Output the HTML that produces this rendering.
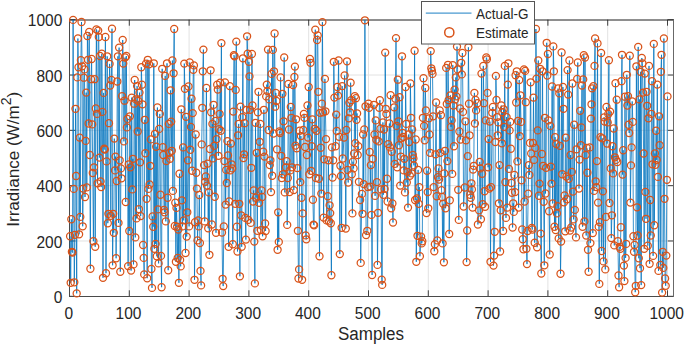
<!DOCTYPE html><html><head><meta charset="utf-8"><title>Irradiance estimate</title>
<style>html,body{margin:0;padding:0;background:#fff}svg{display:block}text{font-family:"Liberation Sans",Arial,Helvetica,sans-serif;fill:#262626}</style></head><body>
<svg width="685" height="344" viewBox="0 0 685 344">
<rect width="685" height="344" fill="#fff"/>
<path d="M129.30 19.7V296.3M189.10 19.7V296.3M248.90 19.7V296.3M308.70 19.7V296.3M368.50 19.7V296.3M428.30 19.7V296.3M488.10 19.7V296.3M547.90 19.7V296.3M607.70 19.7V296.3M667.50 19.7V296.3M69.5 240.98H673.7M69.5 185.66H673.7M69.5 130.34H673.7M69.5 75.02H673.7" stroke="#e2e2e2" stroke-width="1" fill="none"/>
<path d="M69.50 296.3v-6M69.50 19.7v6M129.30 296.3v-6M129.30 19.7v6M189.10 296.3v-6M189.10 19.7v6M248.90 296.3v-6M248.90 19.7v6M308.70 296.3v-6M308.70 19.7v6M368.50 296.3v-6M368.50 19.7v6M428.30 296.3v-6M428.30 19.7v6M488.10 296.3v-6M488.10 19.7v6M547.90 296.3v-6M547.90 19.7v6M607.70 296.3v-6M607.70 19.7v6M667.50 296.3v-6M667.50 19.7v6M69.5 296.30h6M673.7 296.30h-6M69.5 240.98h6M673.7 240.98h-6M69.5 185.66h6M673.7 185.66h-6M69.5 130.34h6M673.7 130.34h-6M69.5 75.02h6M673.7 75.02h-6M69.5 19.70h6M673.7 19.70h-6" stroke="#404040" stroke-width="1" fill="none"/>
<path d="M69 20H674" stroke="#1e1e1e" stroke-width="1" fill="none"/><path d="M69 296.5H674M69.5 20V297" stroke="#4a4a4a" stroke-width="1" fill="none"/><path d="M673.5 20V297" stroke="#686868" stroke-width="1" fill="none"/>
<path d="M70.1 236.2L70.7 282.8L71.3 219.2L71.9 251.8L72.5 252.6L73.1 19.9L73.7 188.9L74.3 282.3L74.9 234.8L75.5 108.8L76.1 176.0L76.7 293.4L77.3 77.4L77.9 38.5L78.5 67.2L79.1 234.3L79.7 137.6L80.3 216.9L80.9 60.2L81.5 22.0L82.1 66.3L82.7 226.3L83.2 188.6L83.8 77.7L84.5 69.4L85.0 197.0L85.7 140.9L86.2 92.6L86.8 187.4L87.4 36.0L88.0 59.8L88.6 123.5L89.2 32.0L89.8 155.0L90.4 268.7L91.0 79.2L91.6 59.0L92.2 124.4L92.8 173.0L93.4 241.2L94.0 167.3L94.6 79.2L95.2 246.8L95.8 108.5L96.4 29.4L97.0 113.9L97.6 183.3L98.2 30.6L98.8 37.0L99.4 157.6L100.0 56.0L100.6 181.5L101.2 187.1L101.8 53.7L102.4 111.9L103.0 277.8L103.6 92.9L104.2 148.7L104.8 149.6L105.4 37.0L106.0 273.2L106.6 161.4L107.2 56.3L107.8 223.2L108.4 213.8L109.0 123.2L109.6 63.9L110.2 85.5L110.8 215.8L111.4 80.0L112.0 28.7L112.6 265.3L113.2 213.8L113.8 232.8L114.3 138.6L115.0 170.4L115.5 156.6L116.1 258.3L116.7 181.0L117.3 81.5L117.9 56.3L118.5 222.9L119.1 47.6L119.7 160.3L120.3 271.7L120.9 168.4L121.5 178.3L122.1 96.1L122.7 40.0L123.3 63.6L123.9 141.4L124.5 100.7L125.1 57.5L125.7 202.0L126.3 56.0L126.9 127.4L127.5 118.9L128.1 266.1L128.7 164.3L129.3 231.0L129.9 116.3L130.5 167.3L131.1 270.6L131.7 97.6L132.3 189.4L132.9 158.8L133.5 264.4L134.1 103.7L134.7 80.0L135.3 237.4L135.9 99.4L136.5 218.4L137.1 86.1L137.7 131.5L138.3 101.0L138.9 209.1L139.5 92.6L140.1 162.3L140.7 216.1L141.3 67.2L141.9 84.7L142.5 104.3L143.1 245.0L143.7 257.9L144.2 274.4L144.8 119.8L145.4 153.2L146.0 63.6L146.6 198.8L147.2 278.2L147.8 59.8L148.4 188.9L149.0 64.3L149.6 184.5L150.2 165.8L150.8 139.4L151.4 269.0L152.0 287.9L152.6 216.4L153.2 226.7L153.8 63.3L154.4 248.8L155.0 133.8L155.6 243.9L156.2 146.7L156.8 256.3L157.4 107.5L158.0 209.4L158.6 263.4L159.2 128.9L159.8 113.9L160.4 194.7L161.0 255.9L161.6 287.2L162.2 68.8L162.8 147.1L163.4 155.0L164.0 209.9L164.6 212.3L165.2 75.9L165.8 221.4L166.4 161.1L167.0 63.3L167.6 197.7L168.2 270.2L168.8 123.9L169.4 152.8L170.0 158.8L170.6 90.3L171.2 121.6L171.8 150.8L172.4 60.5L172.9 190.9L173.6 73.3L174.2 29.0L174.8 226.0L175.3 202.7L175.9 261.8L176.5 207.9L177.1 226.7L177.7 257.9L178.3 229.5L178.9 282.8L179.5 173.7L180.1 259.9L180.7 266.4L181.3 109.3L181.9 200.3L182.5 226.4L183.1 147.4L183.7 220.4L184.3 63.6L184.9 88.8L185.5 253.0L186.1 116.8L186.7 236.6L187.3 212.3L187.9 160.3L188.5 86.5L189.1 226.4L189.7 62.5L190.3 149.7L190.9 126.9L191.5 98.7L192.1 170.7L192.7 113.1L193.3 69.8L193.9 65.4L194.5 279.8L195.1 222.2L195.7 134.5L196.3 172.7L196.9 188.6L197.5 240.4L198.1 220.4L198.7 226.4L199.3 195.0L199.9 243.0L200.5 270.9L201.1 285.4L201.7 144.4L202.3 107.8L202.8 71.3L203.4 49.6L204.1 165.1L204.7 221.4L205.2 181.8L205.8 176.5L206.4 88.0L207.0 185.6L207.6 163.6L208.2 228.3L208.8 192.4L209.4 254.8L210.0 149.0L210.6 70.3L211.2 112.3L211.8 224.5L212.4 123.9L213.0 158.4L213.6 104.8L214.2 145.9L214.8 196.7L215.4 120.9L216.0 232.8L216.6 139.1L217.2 84.7L217.8 89.6L218.4 155.8L219.0 129.2L219.6 113.9L220.2 82.7L220.8 130.7L221.4 43.1L222.0 232.5L222.6 278.8L223.2 286.1L223.8 226.4L224.4 161.1L225.0 82.4L225.6 204.6L226.2 169.9L226.8 183.0L227.4 141.1L228.0 155.5L228.6 246.8L229.2 201.5L229.8 86.1L230.4 170.4L231.0 143.6L231.6 164.3L232.2 168.4L232.8 244.2L233.3 111.6L233.9 55.2L234.6 56.3L235.2 203.8L235.7 89.9L236.3 41.6L236.9 226.7L237.5 251.5L238.1 135.3L238.7 123.9L239.3 203.8L239.9 276.3L240.5 106.6L241.1 215.3L241.7 246.8L242.3 117.1L242.9 58.3L243.5 158.1L244.1 154.3L244.7 123.2L245.3 217.9L245.9 239.6L246.5 109.8L247.1 36.3L247.7 53.7L248.3 219.9L248.9 61.8L249.5 76.4L250.1 109.8L250.7 222.9L251.3 167.8L251.9 54.0L252.5 105.5L253.1 201.5L253.7 190.4L254.3 241.6L254.9 283.4L255.5 122.8L256.1 197.7L256.7 152.8L257.3 230.8L257.9 112.3L258.5 91.8L259.1 202.7L259.7 141.8L260.3 123.9L260.9 230.1L261.5 190.4L262.1 197.0L262.6 236.3L263.2 151.7L263.9 109.8L264.4 156.6L265.1 223.4L265.6 231.0L266.2 96.4L266.8 84.6L267.4 91.1L268.0 49.6L268.6 130.0L269.2 99.4L269.8 165.1L270.4 160.3L271.0 192.1L271.6 73.9L272.2 175.7L272.8 49.9L273.4 133.5L274.0 71.3L274.6 33.5L275.2 106.7L275.8 92.9L276.4 101.0L277.0 149.3L277.6 249.8L278.2 212.3L278.8 241.9L279.4 131.5L280.0 133.0L280.6 77.4L281.2 155.8L281.8 178.0L282.4 93.8L283.0 174.2L283.6 121.3L284.2 57.5L284.8 192.4L286.0 167.3L286.6 161.1L287.2 224.9L287.8 178.0L288.4 84.0L289.0 129.5L289.6 192.1L290.2 170.4L290.8 107.0L291.4 117.8L292.0 167.3L293.1 85.0L293.8 190.1L294.4 77.0L294.9 66.6L295.5 145.6L296.1 119.3L296.7 148.2L297.3 168.1L297.9 230.8L298.5 278.5L299.1 269.4L299.7 130.7L300.3 182.1L300.9 136.1L301.5 197.7L302.1 279.8L302.7 213.4L303.3 130.0L303.9 113.9L304.5 117.8L305.1 147.0L305.7 235.4L306.3 239.3L306.9 155.0L307.5 105.5L308.1 137.6L308.7 87.0L309.3 174.2L309.9 59.0L310.5 62.8L311.1 170.8L311.7 146.2L312.3 119.3L312.9 199.7L313.5 224.6L314.1 225.2L314.7 128.9L315.3 29.7L315.9 178.0L316.5 130.7L317.1 40.0L317.7 35.5L318.3 91.8L318.9 178.7L319.5 256.3L320.1 112.8L320.7 147.7L321.3 193.6L321.9 103.7L322.4 22.1L323.1 112.3L323.6 217.6L324.2 159.3L324.9 78.9L325.4 111.3L326.0 139.1L326.6 220.4L327.8 196.2L328.4 160.3L329.0 221.4L329.6 205.3L330.2 213.1L330.8 223.2L331.4 275.2L332.0 147.4L332.6 177.5L333.2 160.3L333.8 61.8L334.4 97.6L335.6 146.2L336.2 114.6L336.8 131.0L337.4 87.0L338.0 95.6L338.6 60.5L339.2 136.8L339.8 254.1L340.4 165.8L341.0 176.0L341.6 227.8L342.2 86.1L342.8 158.5L344.0 137.6L344.6 75.5L345.8 228.6L346.4 130.0L347.0 61.3L347.6 169.9L348.2 182.5L348.8 118.3L349.4 102.8L350.0 112.3L350.6 82.7L351.2 100.2L351.8 174.2L352.4 213.4L352.9 161.7L353.6 168.4L354.1 153.5L354.8 96.1L355.3 143.2L355.9 98.2L356.5 119.8L357.1 113.4L357.7 155.0L358.3 146.2L358.9 181.8L360.1 200.0L360.7 262.9L361.9 193.9L362.5 213.8L363.1 134.5L363.7 184.1L364.3 129.5L364.9 20.3L365.5 106.3L366.1 235.1L367.3 230.8L367.9 187.1L368.5 103.7L369.1 107.8L369.7 152.0L370.3 186.6L370.9 165.1L371.5 214.9L372.1 275.0L372.7 158.8L373.9 104.8L374.5 134.5L375.1 195.9L375.7 120.4L376.3 139.8L376.9 182.1L377.5 264.9L378.1 212.8L378.7 141.4L379.3 107.8L379.9 100.2L380.5 128.5L381.1 189.4L381.7 279.6L382.2 284.9L382.9 122.4L383.4 194.7L384.1 129.5L384.6 188.9L385.2 52.6L385.8 108.8L386.4 114.0L387.0 178.7L387.6 201.5L388.2 144.1L389.4 123.5L390.0 147.4L390.6 95.2L391.2 208.3L391.8 151.7L392.4 203.5L393.0 222.5L394.2 107.3L394.8 163.9L395.4 98.7L396.0 38.1L396.6 125.9L397.2 167.3L397.8 79.7L398.4 121.3L399.0 145.2L399.6 97.2L400.2 185.6L400.8 156.6L401.4 138.3L402.0 56.3L402.6 133.0L403.2 136.8L403.8 170.4L404.4 158.8L405.0 192.4L405.6 87.0L406.2 123.9L406.8 182.5L407.4 171.9L408.0 207.6L408.6 134.5L409.2 142.1L409.8 175.7L410.4 83.5L411.0 117.8L411.6 173.4L412.1 129.5L412.8 155.0L413.4 158.4L413.9 165.4L414.6 50.7L415.1 200.0L415.7 139.5L416.3 261.8L416.9 198.5L417.5 235.8L418.1 169.9L418.7 203.8L419.3 187.1L419.9 256.3L421.1 236.6L421.7 243.4L422.3 241.2L422.9 117.8L423.5 78.2L424.1 125.9L424.7 140.2L425.3 88.0L425.9 110.4L426.5 213.1L427.1 170.7L427.7 192.1L428.3 208.3L428.9 118.3L429.5 134.5L430.1 152.8L430.7 51.1L431.3 68.3L431.9 70.9L432.5 73.9L433.1 116.3L433.7 187.1L434.3 251.3L434.9 244.2L435.5 154.3L436.1 102.5L436.7 196.2L437.3 240.4L437.9 177.2L438.5 168.4L439.1 179.5L439.7 110.4L440.3 152.8L440.9 115.2L441.5 190.1L442.1 197.0L442.6 243.4L443.2 203.8L443.9 262.3L444.4 173.4L445.0 150.8L445.6 208.3L446.2 67.9L446.8 104.0L447.4 161.1L448.0 64.8L448.6 100.2L449.2 234.0L449.8 200.3L450.4 95.3L451.0 126.9L451.6 120.4L452.2 173.9L452.8 65.1L453.4 105.5L454.0 146.2L454.6 89.6L455.2 99.4L455.8 77.4L456.4 96.4L457.0 46.6L457.6 69.4L458.2 189.8L458.8 219.9L459.4 131.5L460.0 108.5L460.6 139.5L461.2 62.8L461.8 74.4L462.4 53.0L463.0 111.9L463.6 206.5L464.8 187.5L465.4 121.3L466.0 140.3L466.6 262.1L467.2 230.5L467.8 156.1L468.4 47.3L469.0 103.7L469.6 135.3L470.2 194.7L470.8 197.7L471.4 183.3L471.9 189.4L472.6 207.6L473.1 169.6L473.8 165.8L474.4 92.9L474.9 123.5L475.5 99.9L476.1 110.4L477.3 103.2L477.9 224.5L479.1 210.3L479.7 161.9L480.3 168.4L480.9 219.2L481.5 73.6L482.1 173.7L482.7 204.2L483.3 65.9L483.9 103.2L484.5 191.2L485.1 206.8L485.7 120.4L486.3 57.5L486.9 59.3L487.5 92.9L488.1 167.3L488.7 139.1L489.3 188.6L489.9 121.6L490.5 261.8L491.1 187.1L492.3 112.8L492.9 107.0L493.5 265.6L494.1 255.6L494.7 231.8L495.3 142.1L495.9 75.9L496.5 99.9L497.1 117.1L497.7 135.3L498.3 122.4L498.9 203.3L499.5 165.1L500.1 251.5L500.7 210.3L501.3 105.5L501.9 143.3L502.4 112.2L503.1 231.0L503.6 109.3L504.2 126.9L504.8 65.9L505.4 182.1L506.0 217.9L506.6 117.1L507.2 207.6L507.8 84.6L508.4 63.3L509.0 168.9L509.6 130.4L510.2 121.9L510.8 148.7L511.4 183.0L512.0 192.7L512.6 227.5L513.2 203.3L513.8 211.9L514.4 174.9L515.0 192.1L515.6 75.2L516.2 102.5L516.8 71.3L517.4 161.4L518.0 120.9L518.6 207.6L519.2 80.0L519.8 136.1L520.4 95.3L521.0 121.9L521.6 180.3L522.2 229.5L522.8 239.2L523.4 249.2L524.0 69.5L524.6 201.5L525.2 70.9L525.8 102.2L526.4 248.8L527.0 264.1L527.6 231.0L528.2 193.6L528.8 165.1L529.4 174.9L530.0 142.9L530.6 82.3L531.2 153.5L531.8 227.9L532.4 229.5L533.0 142.9L533.5 97.6L534.1 159.9L534.7 242.7L535.3 147.9L535.9 29.0L536.5 78.6L537.1 247.2L537.7 130.4L538.3 60.5L538.9 195.7L539.5 183.6L540.1 68.8L540.7 233.6L541.3 273.5L541.9 154.0L542.5 71.3L543.1 165.8L543.7 201.8L544.3 265.3L544.9 117.8L545.5 193.5L546.1 167.8L546.7 42.8L547.3 75.5L547.9 54.0L548.5 120.4L549.1 211.2L549.7 254.5L550.3 125.9L550.9 166.6L551.5 183.6L552.1 86.5L552.7 203.5L553.3 46.4L553.9 71.3L554.5 226.7L555.1 137.1L555.7 230.1L556.3 144.1L556.9 213.4L557.5 206.1L558.1 88.5L558.7 238.4L559.3 93.4L559.9 145.9L560.5 273.7L561.1 241.6L561.6 52.5L562.2 174.2L562.9 87.0L563.5 108.8L564.0 202.3L564.6 195.4L565.2 231.3L565.8 137.6L566.4 176.5L567.0 199.2L567.6 70.1L568.2 94.6L568.8 178.7L569.4 60.5L570.0 230.5L570.6 155.0L571.2 227.5L571.8 171.9L572.4 83.5L573.0 191.6L573.6 219.4L574.2 124.7L574.8 209.9L576.0 237.4L576.6 149.3L577.2 78.9L577.8 62.5L579.0 188.6L579.6 159.6L580.2 110.8L580.8 145.2L581.4 127.4L582.0 85.5L582.6 226.7L583.2 79.4L583.8 55.2L584.4 221.4L585.0 57.5L585.6 155.0L586.2 235.5L586.8 147.9L587.4 172.7L588.0 249.8L588.6 271.7L589.8 147.4L590.4 243.1L591.0 118.6L591.5 104.3L592.1 88.3L592.8 233.1L593.4 86.1L594.0 190.9L594.5 65.9L595.1 38.5L595.7 181.3L596.3 187.1L596.9 161.1L597.5 43.4L598.1 202.6L598.7 226.7L599.3 283.9L599.9 222.2L600.5 137.1L601.1 53.0L601.7 251.0L602.3 138.3L602.9 191.3L603.5 261.4L604.1 117.4L604.7 121.6L605.3 269.4L605.9 216.9L606.5 107.0L607.1 143.6L607.7 122.4L608.3 114.0L608.9 60.2L609.5 203.0L610.1 111.6L610.7 168.4L611.3 238.1L611.9 215.3L612.5 146.2L613.1 173.4L613.7 128.5L614.3 245.4L614.9 157.3L615.5 83.2L616.1 159.9L616.7 99.7L617.3 162.0L617.9 241.2L618.5 275.5L619.1 287.2L619.7 246.8L620.3 248.8L620.9 227.2L621.5 81.2L622.0 54.8L622.6 174.6L623.2 150.2L623.9 265.6L624.4 281.1L625.0 96.7L625.6 257.9L626.2 243.9L626.8 74.8L627.4 105.5L628.0 96.1L628.6 124.7L629.2 133.0L629.8 55.7L630.4 202.6L631.0 165.4L631.6 147.4L632.2 101.4L632.8 121.9L633.4 236.2L634.0 251.8L634.6 245.0L635.2 292.2L635.8 285.8L636.4 66.3L637.0 207.3L637.6 235.5L638.2 46.9L638.8 258.3L639.4 99.4L640.0 268.2L640.6 71.8L641.2 285.1L641.8 58.0L642.4 63.3L643.0 92.6L643.6 153.5L644.2 248.8L644.8 73.6L645.4 191.9L646.0 218.8L646.6 91.8L647.2 105.8L647.8 245.7L648.4 118.3L649.0 65.9L649.6 263.8L650.2 200.0L650.8 235.5L651.4 113.9L652.0 81.2L652.5 164.3L653.1 255.9L653.8 43.9L654.3 225.2L654.9 153.5L655.5 164.8L656.1 130.7L656.7 159.9L657.3 84.6L657.9 176.9L658.5 270.9L659.1 116.3L659.7 145.2L660.3 264.9L660.9 71.8L661.5 54.8L662.1 292.6L662.7 251.8L663.3 267.9L663.9 38.5L664.5 198.8L665.1 278.5L665.7 285.8L666.3 255.6L666.9 179.8L667.5 96.4" stroke="#0072BD" stroke-width="0.78" fill="none" stroke-linejoin="round"/>
<g fill="none" stroke="#D95319" stroke-width="1.25">
<circle cx="70.1" cy="236.2" r="3.55"/>
<circle cx="70.7" cy="282.8" r="3.55"/>
<circle cx="71.3" cy="219.2" r="3.55"/>
<circle cx="71.9" cy="251.8" r="3.55"/>
<circle cx="72.5" cy="252.6" r="3.55"/>
<circle cx="73.1" cy="19.9" r="3.55"/>
<circle cx="73.7" cy="188.9" r="3.55"/>
<circle cx="74.3" cy="282.3" r="3.55"/>
<circle cx="74.9" cy="234.8" r="3.55"/>
<circle cx="75.5" cy="108.8" r="3.55"/>
<circle cx="76.1" cy="176.0" r="3.55"/>
<circle cx="76.7" cy="293.4" r="3.55"/>
<circle cx="77.3" cy="77.4" r="3.55"/>
<circle cx="77.9" cy="38.5" r="3.55"/>
<circle cx="78.5" cy="67.2" r="3.55"/>
<circle cx="79.1" cy="234.3" r="3.55"/>
<circle cx="79.7" cy="137.6" r="3.55"/>
<circle cx="80.3" cy="216.9" r="3.55"/>
<circle cx="80.9" cy="60.2" r="3.55"/>
<circle cx="81.5" cy="22.0" r="3.55"/>
<circle cx="82.1" cy="66.3" r="3.55"/>
<circle cx="82.7" cy="226.3" r="3.55"/>
<circle cx="83.2" cy="188.6" r="3.55"/>
<circle cx="83.8" cy="77.7" r="3.55"/>
<circle cx="84.5" cy="69.4" r="3.55"/>
<circle cx="85.0" cy="197.0" r="3.55"/>
<circle cx="85.7" cy="140.9" r="3.55"/>
<circle cx="86.2" cy="92.6" r="3.55"/>
<circle cx="86.8" cy="187.4" r="3.55"/>
<circle cx="87.4" cy="36.0" r="3.55"/>
<circle cx="88.0" cy="59.8" r="3.55"/>
<circle cx="88.6" cy="123.5" r="3.55"/>
<circle cx="89.2" cy="32.0" r="3.55"/>
<circle cx="89.8" cy="155.0" r="3.55"/>
<circle cx="90.4" cy="268.7" r="3.55"/>
<circle cx="91.0" cy="79.2" r="3.55"/>
<circle cx="91.6" cy="59.0" r="3.55"/>
<circle cx="92.2" cy="124.4" r="3.55"/>
<circle cx="92.8" cy="173.0" r="3.55"/>
<circle cx="93.4" cy="241.2" r="3.55"/>
<circle cx="94.0" cy="167.3" r="3.55"/>
<circle cx="94.6" cy="79.2" r="3.55"/>
<circle cx="95.2" cy="246.8" r="3.55"/>
<circle cx="95.8" cy="108.5" r="3.55"/>
<circle cx="96.4" cy="29.4" r="3.55"/>
<circle cx="97.0" cy="113.9" r="3.55"/>
<circle cx="97.6" cy="183.3" r="3.55"/>
<circle cx="98.2" cy="30.6" r="3.55"/>
<circle cx="98.8" cy="37.0" r="3.55"/>
<circle cx="99.4" cy="157.6" r="3.55"/>
<circle cx="100.0" cy="56.0" r="3.55"/>
<circle cx="100.6" cy="181.5" r="3.55"/>
<circle cx="101.2" cy="187.1" r="3.55"/>
<circle cx="101.8" cy="53.7" r="3.55"/>
<circle cx="102.4" cy="111.9" r="3.55"/>
<circle cx="103.0" cy="277.8" r="3.55"/>
<circle cx="103.6" cy="92.9" r="3.55"/>
<circle cx="104.2" cy="148.7" r="3.55"/>
<circle cx="104.8" cy="149.6" r="3.55"/>
<circle cx="105.4" cy="37.0" r="3.55"/>
<circle cx="106.0" cy="273.2" r="3.55"/>
<circle cx="106.6" cy="161.4" r="3.55"/>
<circle cx="107.2" cy="56.3" r="3.55"/>
<circle cx="107.8" cy="223.2" r="3.55"/>
<circle cx="108.4" cy="213.8" r="3.55"/>
<circle cx="109.0" cy="123.2" r="3.55"/>
<circle cx="109.6" cy="63.9" r="3.55"/>
<circle cx="110.2" cy="85.5" r="3.55"/>
<circle cx="110.8" cy="215.8" r="3.55"/>
<circle cx="111.4" cy="80.0" r="3.55"/>
<circle cx="112.0" cy="28.7" r="3.55"/>
<circle cx="112.6" cy="265.3" r="3.55"/>
<circle cx="113.2" cy="213.8" r="3.55"/>
<circle cx="113.8" cy="232.8" r="3.55"/>
<circle cx="114.3" cy="138.6" r="3.55"/>
<circle cx="115.0" cy="170.4" r="3.55"/>
<circle cx="115.5" cy="156.6" r="3.55"/>
<circle cx="116.1" cy="258.3" r="3.55"/>
<circle cx="116.7" cy="181.0" r="3.55"/>
<circle cx="117.3" cy="81.5" r="3.55"/>
<circle cx="117.9" cy="56.3" r="3.55"/>
<circle cx="118.5" cy="222.9" r="3.55"/>
<circle cx="119.1" cy="47.6" r="3.55"/>
<circle cx="119.7" cy="160.3" r="3.55"/>
<circle cx="120.3" cy="271.7" r="3.55"/>
<circle cx="120.9" cy="168.4" r="3.55"/>
<circle cx="121.5" cy="178.3" r="3.55"/>
<circle cx="122.1" cy="96.1" r="3.55"/>
<circle cx="122.7" cy="40.0" r="3.55"/>
<circle cx="123.3" cy="63.6" r="3.55"/>
<circle cx="123.9" cy="141.4" r="3.55"/>
<circle cx="124.5" cy="100.7" r="3.55"/>
<circle cx="125.1" cy="57.5" r="3.55"/>
<circle cx="125.7" cy="202.0" r="3.55"/>
<circle cx="126.3" cy="56.0" r="3.55"/>
<circle cx="126.9" cy="127.4" r="3.55"/>
<circle cx="127.5" cy="118.9" r="3.55"/>
<circle cx="128.1" cy="266.1" r="3.55"/>
<circle cx="128.7" cy="164.3" r="3.55"/>
<circle cx="129.3" cy="231.0" r="3.55"/>
<circle cx="129.9" cy="116.3" r="3.55"/>
<circle cx="130.5" cy="167.3" r="3.55"/>
<circle cx="131.1" cy="270.6" r="3.55"/>
<circle cx="131.7" cy="97.6" r="3.55"/>
<circle cx="132.3" cy="189.4" r="3.55"/>
<circle cx="132.9" cy="158.8" r="3.55"/>
<circle cx="133.5" cy="264.4" r="3.55"/>
<circle cx="134.1" cy="103.7" r="3.55"/>
<circle cx="134.7" cy="80.0" r="3.55"/>
<circle cx="135.3" cy="237.4" r="3.55"/>
<circle cx="135.9" cy="99.4" r="3.55"/>
<circle cx="136.5" cy="218.4" r="3.55"/>
<circle cx="137.1" cy="86.1" r="3.55"/>
<circle cx="137.7" cy="131.5" r="3.55"/>
<circle cx="138.3" cy="101.0" r="3.55"/>
<circle cx="138.9" cy="209.1" r="3.55"/>
<circle cx="139.5" cy="92.6" r="3.55"/>
<circle cx="140.1" cy="162.3" r="3.55"/>
<circle cx="140.7" cy="216.1" r="3.55"/>
<circle cx="141.3" cy="67.2" r="3.55"/>
<circle cx="141.9" cy="84.7" r="3.55"/>
<circle cx="142.5" cy="104.3" r="3.55"/>
<circle cx="143.1" cy="245.0" r="3.55"/>
<circle cx="143.7" cy="257.9" r="3.55"/>
<circle cx="144.2" cy="274.4" r="3.55"/>
<circle cx="144.8" cy="119.8" r="3.55"/>
<circle cx="145.4" cy="153.2" r="3.55"/>
<circle cx="146.0" cy="63.6" r="3.55"/>
<circle cx="146.6" cy="198.8" r="3.55"/>
<circle cx="147.2" cy="278.2" r="3.55"/>
<circle cx="147.8" cy="59.8" r="3.55"/>
<circle cx="148.4" cy="188.9" r="3.55"/>
<circle cx="149.0" cy="64.3" r="3.55"/>
<circle cx="149.6" cy="184.5" r="3.55"/>
<circle cx="150.2" cy="165.8" r="3.55"/>
<circle cx="150.8" cy="139.4" r="3.55"/>
<circle cx="151.4" cy="269.0" r="3.55"/>
<circle cx="152.0" cy="287.9" r="3.55"/>
<circle cx="152.6" cy="216.4" r="3.55"/>
<circle cx="153.2" cy="226.7" r="3.55"/>
<circle cx="153.8" cy="63.3" r="3.55"/>
<circle cx="154.4" cy="248.8" r="3.55"/>
<circle cx="155.0" cy="133.8" r="3.55"/>
<circle cx="155.6" cy="243.9" r="3.55"/>
<circle cx="156.2" cy="146.7" r="3.55"/>
<circle cx="156.8" cy="256.3" r="3.55"/>
<circle cx="157.4" cy="107.5" r="3.55"/>
<circle cx="158.0" cy="209.4" r="3.55"/>
<circle cx="158.6" cy="263.4" r="3.55"/>
<circle cx="159.2" cy="128.9" r="3.55"/>
<circle cx="159.8" cy="113.9" r="3.55"/>
<circle cx="160.4" cy="194.7" r="3.55"/>
<circle cx="161.0" cy="255.9" r="3.55"/>
<circle cx="161.6" cy="287.2" r="3.55"/>
<circle cx="162.2" cy="68.8" r="3.55"/>
<circle cx="162.8" cy="147.1" r="3.55"/>
<circle cx="163.4" cy="155.0" r="3.55"/>
<circle cx="164.0" cy="209.9" r="3.55"/>
<circle cx="164.6" cy="212.3" r="3.55"/>
<circle cx="165.2" cy="75.9" r="3.55"/>
<circle cx="165.8" cy="221.4" r="3.55"/>
<circle cx="166.4" cy="161.1" r="3.55"/>
<circle cx="167.0" cy="63.3" r="3.55"/>
<circle cx="167.6" cy="197.7" r="3.55"/>
<circle cx="168.2" cy="270.2" r="3.55"/>
<circle cx="168.8" cy="123.9" r="3.55"/>
<circle cx="169.4" cy="152.8" r="3.55"/>
<circle cx="170.0" cy="158.8" r="3.55"/>
<circle cx="170.6" cy="90.3" r="3.55"/>
<circle cx="171.2" cy="121.6" r="3.55"/>
<circle cx="171.8" cy="150.8" r="3.55"/>
<circle cx="172.4" cy="60.5" r="3.55"/>
<circle cx="172.9" cy="190.9" r="3.55"/>
<circle cx="173.6" cy="73.3" r="3.55"/>
<circle cx="174.2" cy="29.0" r="3.55"/>
<circle cx="174.8" cy="226.0" r="3.55"/>
<circle cx="175.3" cy="202.7" r="3.55"/>
<circle cx="175.9" cy="261.8" r="3.55"/>
<circle cx="176.5" cy="207.9" r="3.55"/>
<circle cx="177.1" cy="226.7" r="3.55"/>
<circle cx="177.7" cy="257.9" r="3.55"/>
<circle cx="178.3" cy="229.5" r="3.55"/>
<circle cx="178.9" cy="282.8" r="3.55"/>
<circle cx="179.5" cy="173.7" r="3.55"/>
<circle cx="180.1" cy="259.9" r="3.55"/>
<circle cx="180.7" cy="266.4" r="3.55"/>
<circle cx="181.3" cy="109.3" r="3.55"/>
<circle cx="181.9" cy="200.3" r="3.55"/>
<circle cx="182.5" cy="226.4" r="3.55"/>
<circle cx="183.1" cy="147.4" r="3.55"/>
<circle cx="183.7" cy="220.4" r="3.55"/>
<circle cx="184.3" cy="63.6" r="3.55"/>
<circle cx="184.9" cy="88.8" r="3.55"/>
<circle cx="185.5" cy="253.0" r="3.55"/>
<circle cx="186.1" cy="116.8" r="3.55"/>
<circle cx="186.7" cy="236.6" r="3.55"/>
<circle cx="187.3" cy="212.3" r="3.55"/>
<circle cx="187.9" cy="160.3" r="3.55"/>
<circle cx="188.5" cy="86.5" r="3.55"/>
<circle cx="189.1" cy="226.4" r="3.55"/>
<circle cx="189.7" cy="62.5" r="3.55"/>
<circle cx="190.3" cy="149.7" r="3.55"/>
<circle cx="190.9" cy="126.9" r="3.55"/>
<circle cx="191.5" cy="98.7" r="3.55"/>
<circle cx="192.1" cy="170.7" r="3.55"/>
<circle cx="192.7" cy="113.1" r="3.55"/>
<circle cx="193.3" cy="69.8" r="3.55"/>
<circle cx="193.9" cy="65.4" r="3.55"/>
<circle cx="194.5" cy="279.8" r="3.55"/>
<circle cx="195.1" cy="222.2" r="3.55"/>
<circle cx="195.7" cy="134.5" r="3.55"/>
<circle cx="196.3" cy="172.7" r="3.55"/>
<circle cx="196.9" cy="188.6" r="3.55"/>
<circle cx="197.5" cy="240.4" r="3.55"/>
<circle cx="198.1" cy="220.4" r="3.55"/>
<circle cx="198.7" cy="226.4" r="3.55"/>
<circle cx="199.3" cy="195.0" r="3.55"/>
<circle cx="199.9" cy="243.0" r="3.55"/>
<circle cx="200.5" cy="270.9" r="3.55"/>
<circle cx="201.1" cy="285.4" r="3.55"/>
<circle cx="201.7" cy="144.4" r="3.55"/>
<circle cx="202.3" cy="107.8" r="3.55"/>
<circle cx="202.8" cy="71.3" r="3.55"/>
<circle cx="203.4" cy="49.6" r="3.55"/>
<circle cx="204.1" cy="165.1" r="3.55"/>
<circle cx="204.7" cy="221.4" r="3.55"/>
<circle cx="205.2" cy="181.8" r="3.55"/>
<circle cx="205.8" cy="176.5" r="3.55"/>
<circle cx="206.4" cy="88.0" r="3.55"/>
<circle cx="207.0" cy="185.6" r="3.55"/>
<circle cx="207.6" cy="163.6" r="3.55"/>
<circle cx="208.2" cy="228.3" r="3.55"/>
<circle cx="208.8" cy="192.4" r="3.55"/>
<circle cx="209.4" cy="254.8" r="3.55"/>
<circle cx="210.0" cy="149.0" r="3.55"/>
<circle cx="210.6" cy="70.3" r="3.55"/>
<circle cx="211.2" cy="112.3" r="3.55"/>
<circle cx="211.8" cy="224.5" r="3.55"/>
<circle cx="212.4" cy="123.9" r="3.55"/>
<circle cx="213.0" cy="158.4" r="3.55"/>
<circle cx="213.6" cy="104.8" r="3.55"/>
<circle cx="214.2" cy="145.9" r="3.55"/>
<circle cx="214.8" cy="196.7" r="3.55"/>
<circle cx="215.4" cy="120.9" r="3.55"/>
<circle cx="216.0" cy="232.8" r="3.55"/>
<circle cx="216.6" cy="139.1" r="3.55"/>
<circle cx="217.2" cy="84.7" r="3.55"/>
<circle cx="217.8" cy="89.6" r="3.55"/>
<circle cx="218.4" cy="155.8" r="3.55"/>
<circle cx="219.0" cy="129.2" r="3.55"/>
<circle cx="219.6" cy="113.9" r="3.55"/>
<circle cx="220.2" cy="82.7" r="3.55"/>
<circle cx="220.8" cy="130.7" r="3.55"/>
<circle cx="221.4" cy="43.1" r="3.55"/>
<circle cx="222.0" cy="232.5" r="3.55"/>
<circle cx="222.6" cy="278.8" r="3.55"/>
<circle cx="223.2" cy="286.1" r="3.55"/>
<circle cx="223.8" cy="226.4" r="3.55"/>
<circle cx="224.4" cy="161.1" r="3.55"/>
<circle cx="225.0" cy="82.4" r="3.55"/>
<circle cx="225.6" cy="204.6" r="3.55"/>
<circle cx="226.2" cy="169.9" r="3.55"/>
<circle cx="226.8" cy="183.0" r="3.55"/>
<circle cx="227.4" cy="141.1" r="3.55"/>
<circle cx="228.0" cy="155.5" r="3.55"/>
<circle cx="228.6" cy="246.8" r="3.55"/>
<circle cx="229.2" cy="201.5" r="3.55"/>
<circle cx="229.8" cy="86.1" r="3.55"/>
<circle cx="230.4" cy="170.4" r="3.55"/>
<circle cx="231.0" cy="143.6" r="3.55"/>
<circle cx="231.6" cy="164.3" r="3.55"/>
<circle cx="232.2" cy="168.4" r="3.55"/>
<circle cx="232.8" cy="244.2" r="3.55"/>
<circle cx="233.3" cy="111.6" r="3.55"/>
<circle cx="233.9" cy="55.2" r="3.55"/>
<circle cx="234.6" cy="56.3" r="3.55"/>
<circle cx="235.2" cy="203.8" r="3.55"/>
<circle cx="235.7" cy="89.9" r="3.55"/>
<circle cx="236.3" cy="41.6" r="3.55"/>
<circle cx="236.9" cy="226.7" r="3.55"/>
<circle cx="237.5" cy="251.5" r="3.55"/>
<circle cx="238.1" cy="135.3" r="3.55"/>
<circle cx="238.7" cy="123.9" r="3.55"/>
<circle cx="239.3" cy="203.8" r="3.55"/>
<circle cx="239.9" cy="276.3" r="3.55"/>
<circle cx="240.5" cy="106.6" r="3.55"/>
<circle cx="241.1" cy="215.3" r="3.55"/>
<circle cx="241.7" cy="246.8" r="3.55"/>
<circle cx="242.3" cy="117.1" r="3.55"/>
<circle cx="242.9" cy="58.3" r="3.55"/>
<circle cx="243.5" cy="158.1" r="3.55"/>
<circle cx="244.1" cy="154.3" r="3.55"/>
<circle cx="244.7" cy="123.2" r="3.55"/>
<circle cx="245.3" cy="217.9" r="3.55"/>
<circle cx="245.9" cy="239.6" r="3.55"/>
<circle cx="246.5" cy="109.8" r="3.55"/>
<circle cx="247.1" cy="36.3" r="3.55"/>
<circle cx="247.7" cy="53.7" r="3.55"/>
<circle cx="248.3" cy="219.9" r="3.55"/>
<circle cx="248.9" cy="61.8" r="3.55"/>
<circle cx="249.5" cy="76.4" r="3.55"/>
<circle cx="250.1" cy="109.8" r="3.55"/>
<circle cx="250.7" cy="222.9" r="3.55"/>
<circle cx="251.3" cy="167.8" r="3.55"/>
<circle cx="251.9" cy="54.0" r="3.55"/>
<circle cx="252.5" cy="105.5" r="3.55"/>
<circle cx="253.1" cy="201.5" r="3.55"/>
<circle cx="253.7" cy="190.4" r="3.55"/>
<circle cx="254.3" cy="241.6" r="3.55"/>
<circle cx="254.9" cy="283.4" r="3.55"/>
<circle cx="255.5" cy="122.8" r="3.55"/>
<circle cx="256.1" cy="197.7" r="3.55"/>
<circle cx="256.7" cy="152.8" r="3.55"/>
<circle cx="257.3" cy="230.8" r="3.55"/>
<circle cx="257.9" cy="112.3" r="3.55"/>
<circle cx="258.5" cy="91.8" r="3.55"/>
<circle cx="259.1" cy="202.7" r="3.55"/>
<circle cx="259.7" cy="141.8" r="3.55"/>
<circle cx="260.3" cy="123.9" r="3.55"/>
<circle cx="260.9" cy="230.1" r="3.55"/>
<circle cx="261.5" cy="190.4" r="3.55"/>
<circle cx="262.1" cy="197.0" r="3.55"/>
<circle cx="262.6" cy="236.3" r="3.55"/>
<circle cx="263.2" cy="151.7" r="3.55"/>
<circle cx="263.9" cy="109.8" r="3.55"/>
<circle cx="264.4" cy="156.6" r="3.55"/>
<circle cx="265.1" cy="223.4" r="3.55"/>
<circle cx="265.6" cy="231.0" r="3.55"/>
<circle cx="266.2" cy="96.4" r="3.55"/>
<circle cx="266.8" cy="84.6" r="3.55"/>
<circle cx="267.4" cy="91.1" r="3.55"/>
<circle cx="268.0" cy="49.6" r="3.55"/>
<circle cx="268.6" cy="130.0" r="3.55"/>
<circle cx="269.2" cy="99.4" r="3.55"/>
<circle cx="269.8" cy="165.1" r="3.55"/>
<circle cx="270.4" cy="160.3" r="3.55"/>
<circle cx="271.0" cy="192.1" r="3.55"/>
<circle cx="271.6" cy="73.9" r="3.55"/>
<circle cx="272.2" cy="175.7" r="3.55"/>
<circle cx="272.8" cy="49.9" r="3.55"/>
<circle cx="273.4" cy="133.5" r="3.55"/>
<circle cx="274.0" cy="71.3" r="3.55"/>
<circle cx="274.6" cy="33.5" r="3.55"/>
<circle cx="275.2" cy="106.7" r="3.55"/>
<circle cx="275.8" cy="92.9" r="3.55"/>
<circle cx="276.4" cy="101.0" r="3.55"/>
<circle cx="277.0" cy="149.3" r="3.55"/>
<circle cx="277.6" cy="249.8" r="3.55"/>
<circle cx="278.2" cy="212.3" r="3.55"/>
<circle cx="278.8" cy="241.9" r="3.55"/>
<circle cx="279.4" cy="131.5" r="3.55"/>
<circle cx="280.0" cy="133.0" r="3.55"/>
<circle cx="280.6" cy="77.4" r="3.55"/>
<circle cx="281.2" cy="155.8" r="3.55"/>
<circle cx="281.8" cy="178.0" r="3.55"/>
<circle cx="282.4" cy="93.8" r="3.55"/>
<circle cx="283.0" cy="174.2" r="3.55"/>
<circle cx="283.6" cy="121.3" r="3.55"/>
<circle cx="284.2" cy="57.5" r="3.55"/>
<circle cx="284.8" cy="192.4" r="3.55"/>
<circle cx="286.0" cy="167.3" r="3.55"/>
<circle cx="286.6" cy="161.1" r="3.55"/>
<circle cx="287.2" cy="224.9" r="3.55"/>
<circle cx="287.8" cy="178.0" r="3.55"/>
<circle cx="288.4" cy="84.0" r="3.55"/>
<circle cx="289.0" cy="129.5" r="3.55"/>
<circle cx="289.6" cy="192.1" r="3.55"/>
<circle cx="290.2" cy="170.4" r="3.55"/>
<circle cx="290.8" cy="107.0" r="3.55"/>
<circle cx="291.4" cy="117.8" r="3.55"/>
<circle cx="292.0" cy="167.3" r="3.55"/>
<circle cx="293.1" cy="85.0" r="3.55"/>
<circle cx="293.8" cy="190.1" r="3.55"/>
<circle cx="294.4" cy="77.0" r="3.55"/>
<circle cx="294.9" cy="66.6" r="3.55"/>
<circle cx="295.5" cy="145.6" r="3.55"/>
<circle cx="296.1" cy="119.3" r="3.55"/>
<circle cx="296.7" cy="148.2" r="3.55"/>
<circle cx="297.3" cy="168.1" r="3.55"/>
<circle cx="297.9" cy="230.8" r="3.55"/>
<circle cx="298.5" cy="278.5" r="3.55"/>
<circle cx="299.1" cy="269.4" r="3.55"/>
<circle cx="299.7" cy="130.7" r="3.55"/>
<circle cx="300.3" cy="182.1" r="3.55"/>
<circle cx="300.9" cy="136.1" r="3.55"/>
<circle cx="301.5" cy="197.7" r="3.55"/>
<circle cx="302.1" cy="279.8" r="3.55"/>
<circle cx="302.7" cy="213.4" r="3.55"/>
<circle cx="303.3" cy="130.0" r="3.55"/>
<circle cx="303.9" cy="113.9" r="3.55"/>
<circle cx="304.5" cy="117.8" r="3.55"/>
<circle cx="305.1" cy="147.0" r="3.55"/>
<circle cx="305.7" cy="235.4" r="3.55"/>
<circle cx="306.3" cy="239.3" r="3.55"/>
<circle cx="306.9" cy="155.0" r="3.55"/>
<circle cx="307.5" cy="105.5" r="3.55"/>
<circle cx="308.1" cy="137.6" r="3.55"/>
<circle cx="308.7" cy="87.0" r="3.55"/>
<circle cx="309.3" cy="174.2" r="3.55"/>
<circle cx="309.9" cy="59.0" r="3.55"/>
<circle cx="310.5" cy="62.8" r="3.55"/>
<circle cx="311.1" cy="170.8" r="3.55"/>
<circle cx="311.7" cy="146.2" r="3.55"/>
<circle cx="312.3" cy="119.3" r="3.55"/>
<circle cx="312.9" cy="199.7" r="3.55"/>
<circle cx="313.5" cy="224.6" r="3.55"/>
<circle cx="314.1" cy="225.2" r="3.55"/>
<circle cx="314.7" cy="128.9" r="3.55"/>
<circle cx="315.3" cy="29.7" r="3.55"/>
<circle cx="315.9" cy="178.0" r="3.55"/>
<circle cx="316.5" cy="130.7" r="3.55"/>
<circle cx="317.1" cy="40.0" r="3.55"/>
<circle cx="317.7" cy="35.5" r="3.55"/>
<circle cx="318.3" cy="91.8" r="3.55"/>
<circle cx="318.9" cy="178.7" r="3.55"/>
<circle cx="319.5" cy="256.3" r="3.55"/>
<circle cx="320.1" cy="112.8" r="3.55"/>
<circle cx="320.7" cy="147.7" r="3.55"/>
<circle cx="321.3" cy="193.6" r="3.55"/>
<circle cx="321.9" cy="103.7" r="3.55"/>
<circle cx="322.4" cy="22.1" r="3.55"/>
<circle cx="323.1" cy="112.3" r="3.55"/>
<circle cx="323.6" cy="217.6" r="3.55"/>
<circle cx="324.2" cy="159.3" r="3.55"/>
<circle cx="324.9" cy="78.9" r="3.55"/>
<circle cx="325.4" cy="111.3" r="3.55"/>
<circle cx="326.0" cy="139.1" r="3.55"/>
<circle cx="326.6" cy="220.4" r="3.55"/>
<circle cx="327.8" cy="196.2" r="3.55"/>
<circle cx="328.4" cy="160.3" r="3.55"/>
<circle cx="329.0" cy="221.4" r="3.55"/>
<circle cx="329.6" cy="205.3" r="3.55"/>
<circle cx="330.2" cy="213.1" r="3.55"/>
<circle cx="330.8" cy="223.2" r="3.55"/>
<circle cx="331.4" cy="275.2" r="3.55"/>
<circle cx="332.0" cy="147.4" r="3.55"/>
<circle cx="332.6" cy="177.5" r="3.55"/>
<circle cx="333.2" cy="160.3" r="3.55"/>
<circle cx="333.8" cy="61.8" r="3.55"/>
<circle cx="334.4" cy="97.6" r="3.55"/>
<circle cx="335.6" cy="146.2" r="3.55"/>
<circle cx="336.2" cy="114.6" r="3.55"/>
<circle cx="336.8" cy="131.0" r="3.55"/>
<circle cx="337.4" cy="87.0" r="3.55"/>
<circle cx="338.0" cy="95.6" r="3.55"/>
<circle cx="338.6" cy="60.5" r="3.55"/>
<circle cx="339.2" cy="136.8" r="3.55"/>
<circle cx="339.8" cy="254.1" r="3.55"/>
<circle cx="340.4" cy="165.8" r="3.55"/>
<circle cx="341.0" cy="176.0" r="3.55"/>
<circle cx="341.6" cy="227.8" r="3.55"/>
<circle cx="342.2" cy="86.1" r="3.55"/>
<circle cx="342.8" cy="158.5" r="3.55"/>
<circle cx="344.0" cy="137.6" r="3.55"/>
<circle cx="344.6" cy="75.5" r="3.55"/>
<circle cx="345.8" cy="228.6" r="3.55"/>
<circle cx="346.4" cy="130.0" r="3.55"/>
<circle cx="347.0" cy="61.3" r="3.55"/>
<circle cx="347.6" cy="169.9" r="3.55"/>
<circle cx="348.2" cy="182.5" r="3.55"/>
<circle cx="348.8" cy="118.3" r="3.55"/>
<circle cx="349.4" cy="102.8" r="3.55"/>
<circle cx="350.0" cy="112.3" r="3.55"/>
<circle cx="350.6" cy="82.7" r="3.55"/>
<circle cx="351.2" cy="100.2" r="3.55"/>
<circle cx="351.8" cy="174.2" r="3.55"/>
<circle cx="352.4" cy="213.4" r="3.55"/>
<circle cx="352.9" cy="161.7" r="3.55"/>
<circle cx="353.6" cy="168.4" r="3.55"/>
<circle cx="354.1" cy="153.5" r="3.55"/>
<circle cx="354.8" cy="96.1" r="3.55"/>
<circle cx="355.3" cy="143.2" r="3.55"/>
<circle cx="355.9" cy="98.2" r="3.55"/>
<circle cx="356.5" cy="119.8" r="3.55"/>
<circle cx="357.1" cy="113.4" r="3.55"/>
<circle cx="357.7" cy="155.0" r="3.55"/>
<circle cx="358.3" cy="146.2" r="3.55"/>
<circle cx="358.9" cy="181.8" r="3.55"/>
<circle cx="360.1" cy="200.0" r="3.55"/>
<circle cx="360.7" cy="262.9" r="3.55"/>
<circle cx="361.9" cy="193.9" r="3.55"/>
<circle cx="362.5" cy="213.8" r="3.55"/>
<circle cx="363.1" cy="134.5" r="3.55"/>
<circle cx="363.7" cy="184.1" r="3.55"/>
<circle cx="364.3" cy="129.5" r="3.55"/>
<circle cx="364.9" cy="20.3" r="3.55"/>
<circle cx="365.5" cy="106.3" r="3.55"/>
<circle cx="366.1" cy="235.1" r="3.55"/>
<circle cx="367.3" cy="230.8" r="3.55"/>
<circle cx="367.9" cy="187.1" r="3.55"/>
<circle cx="368.5" cy="103.7" r="3.55"/>
<circle cx="369.1" cy="107.8" r="3.55"/>
<circle cx="369.7" cy="152.0" r="3.55"/>
<circle cx="370.3" cy="186.6" r="3.55"/>
<circle cx="370.9" cy="165.1" r="3.55"/>
<circle cx="371.5" cy="214.9" r="3.55"/>
<circle cx="372.1" cy="275.0" r="3.55"/>
<circle cx="372.7" cy="158.8" r="3.55"/>
<circle cx="373.9" cy="104.8" r="3.55"/>
<circle cx="374.5" cy="134.5" r="3.55"/>
<circle cx="375.1" cy="195.9" r="3.55"/>
<circle cx="375.7" cy="120.4" r="3.55"/>
<circle cx="376.3" cy="139.8" r="3.55"/>
<circle cx="376.9" cy="182.1" r="3.55"/>
<circle cx="377.5" cy="264.9" r="3.55"/>
<circle cx="378.1" cy="212.8" r="3.55"/>
<circle cx="378.7" cy="141.4" r="3.55"/>
<circle cx="379.3" cy="107.8" r="3.55"/>
<circle cx="379.9" cy="100.2" r="3.55"/>
<circle cx="380.5" cy="128.5" r="3.55"/>
<circle cx="381.1" cy="189.4" r="3.55"/>
<circle cx="381.7" cy="279.6" r="3.55"/>
<circle cx="382.2" cy="284.9" r="3.55"/>
<circle cx="382.9" cy="122.4" r="3.55"/>
<circle cx="383.4" cy="194.7" r="3.55"/>
<circle cx="384.1" cy="129.5" r="3.55"/>
<circle cx="384.6" cy="188.9" r="3.55"/>
<circle cx="385.2" cy="52.6" r="3.55"/>
<circle cx="385.8" cy="108.8" r="3.55"/>
<circle cx="386.4" cy="114.0" r="3.55"/>
<circle cx="387.0" cy="178.7" r="3.55"/>
<circle cx="387.6" cy="201.5" r="3.55"/>
<circle cx="388.2" cy="144.1" r="3.55"/>
<circle cx="389.4" cy="123.5" r="3.55"/>
<circle cx="390.0" cy="147.4" r="3.55"/>
<circle cx="390.6" cy="95.2" r="3.55"/>
<circle cx="391.2" cy="208.3" r="3.55"/>
<circle cx="391.8" cy="151.7" r="3.55"/>
<circle cx="392.4" cy="203.5" r="3.55"/>
<circle cx="393.0" cy="222.5" r="3.55"/>
<circle cx="394.2" cy="107.3" r="3.55"/>
<circle cx="394.8" cy="163.9" r="3.55"/>
<circle cx="395.4" cy="98.7" r="3.55"/>
<circle cx="396.0" cy="38.1" r="3.55"/>
<circle cx="396.6" cy="125.9" r="3.55"/>
<circle cx="397.2" cy="167.3" r="3.55"/>
<circle cx="397.8" cy="79.7" r="3.55"/>
<circle cx="398.4" cy="121.3" r="3.55"/>
<circle cx="399.0" cy="145.2" r="3.55"/>
<circle cx="399.6" cy="97.2" r="3.55"/>
<circle cx="400.2" cy="185.6" r="3.55"/>
<circle cx="400.8" cy="156.6" r="3.55"/>
<circle cx="401.4" cy="138.3" r="3.55"/>
<circle cx="402.0" cy="56.3" r="3.55"/>
<circle cx="402.6" cy="133.0" r="3.55"/>
<circle cx="403.2" cy="136.8" r="3.55"/>
<circle cx="403.8" cy="170.4" r="3.55"/>
<circle cx="404.4" cy="158.8" r="3.55"/>
<circle cx="405.0" cy="192.4" r="3.55"/>
<circle cx="405.6" cy="87.0" r="3.55"/>
<circle cx="406.2" cy="123.9" r="3.55"/>
<circle cx="406.8" cy="182.5" r="3.55"/>
<circle cx="407.4" cy="171.9" r="3.55"/>
<circle cx="408.0" cy="207.6" r="3.55"/>
<circle cx="408.6" cy="134.5" r="3.55"/>
<circle cx="409.2" cy="142.1" r="3.55"/>
<circle cx="409.8" cy="175.7" r="3.55"/>
<circle cx="410.4" cy="83.5" r="3.55"/>
<circle cx="411.0" cy="117.8" r="3.55"/>
<circle cx="411.6" cy="173.4" r="3.55"/>
<circle cx="412.1" cy="129.5" r="3.55"/>
<circle cx="412.8" cy="155.0" r="3.55"/>
<circle cx="413.4" cy="158.4" r="3.55"/>
<circle cx="413.9" cy="165.4" r="3.55"/>
<circle cx="414.6" cy="50.7" r="3.55"/>
<circle cx="415.1" cy="200.0" r="3.55"/>
<circle cx="415.7" cy="139.5" r="3.55"/>
<circle cx="416.3" cy="261.8" r="3.55"/>
<circle cx="416.9" cy="198.5" r="3.55"/>
<circle cx="417.5" cy="235.8" r="3.55"/>
<circle cx="418.1" cy="169.9" r="3.55"/>
<circle cx="418.7" cy="203.8" r="3.55"/>
<circle cx="419.3" cy="187.1" r="3.55"/>
<circle cx="419.9" cy="256.3" r="3.55"/>
<circle cx="421.1" cy="236.6" r="3.55"/>
<circle cx="421.7" cy="243.4" r="3.55"/>
<circle cx="422.3" cy="241.2" r="3.55"/>
<circle cx="422.9" cy="117.8" r="3.55"/>
<circle cx="423.5" cy="78.2" r="3.55"/>
<circle cx="424.1" cy="125.9" r="3.55"/>
<circle cx="424.7" cy="140.2" r="3.55"/>
<circle cx="425.3" cy="88.0" r="3.55"/>
<circle cx="425.9" cy="110.4" r="3.55"/>
<circle cx="426.5" cy="213.1" r="3.55"/>
<circle cx="427.1" cy="170.7" r="3.55"/>
<circle cx="427.7" cy="192.1" r="3.55"/>
<circle cx="428.3" cy="208.3" r="3.55"/>
<circle cx="428.9" cy="118.3" r="3.55"/>
<circle cx="429.5" cy="134.5" r="3.55"/>
<circle cx="430.1" cy="152.8" r="3.55"/>
<circle cx="430.7" cy="51.1" r="3.55"/>
<circle cx="431.3" cy="68.3" r="3.55"/>
<circle cx="431.9" cy="70.9" r="3.55"/>
<circle cx="432.5" cy="73.9" r="3.55"/>
<circle cx="433.1" cy="116.3" r="3.55"/>
<circle cx="433.7" cy="187.1" r="3.55"/>
<circle cx="434.3" cy="251.3" r="3.55"/>
<circle cx="434.9" cy="244.2" r="3.55"/>
<circle cx="435.5" cy="154.3" r="3.55"/>
<circle cx="436.1" cy="102.5" r="3.55"/>
<circle cx="436.7" cy="196.2" r="3.55"/>
<circle cx="437.3" cy="240.4" r="3.55"/>
<circle cx="437.9" cy="177.2" r="3.55"/>
<circle cx="438.5" cy="168.4" r="3.55"/>
<circle cx="439.1" cy="179.5" r="3.55"/>
<circle cx="439.7" cy="110.4" r="3.55"/>
<circle cx="440.3" cy="152.8" r="3.55"/>
<circle cx="440.9" cy="115.2" r="3.55"/>
<circle cx="441.5" cy="190.1" r="3.55"/>
<circle cx="442.1" cy="197.0" r="3.55"/>
<circle cx="442.6" cy="243.4" r="3.55"/>
<circle cx="443.2" cy="203.8" r="3.55"/>
<circle cx="443.9" cy="262.3" r="3.55"/>
<circle cx="444.4" cy="173.4" r="3.55"/>
<circle cx="445.0" cy="150.8" r="3.55"/>
<circle cx="445.6" cy="208.3" r="3.55"/>
<circle cx="446.2" cy="67.9" r="3.55"/>
<circle cx="446.8" cy="104.0" r="3.55"/>
<circle cx="447.4" cy="161.1" r="3.55"/>
<circle cx="448.0" cy="64.8" r="3.55"/>
<circle cx="448.6" cy="100.2" r="3.55"/>
<circle cx="449.2" cy="234.0" r="3.55"/>
<circle cx="449.8" cy="200.3" r="3.55"/>
<circle cx="450.4" cy="95.3" r="3.55"/>
<circle cx="451.0" cy="126.9" r="3.55"/>
<circle cx="451.6" cy="120.4" r="3.55"/>
<circle cx="452.2" cy="173.9" r="3.55"/>
<circle cx="452.8" cy="65.1" r="3.55"/>
<circle cx="453.4" cy="105.5" r="3.55"/>
<circle cx="454.0" cy="146.2" r="3.55"/>
<circle cx="454.6" cy="89.6" r="3.55"/>
<circle cx="455.2" cy="99.4" r="3.55"/>
<circle cx="455.8" cy="77.4" r="3.55"/>
<circle cx="456.4" cy="96.4" r="3.55"/>
<circle cx="457.0" cy="46.6" r="3.55"/>
<circle cx="457.6" cy="69.4" r="3.55"/>
<circle cx="458.2" cy="189.8" r="3.55"/>
<circle cx="458.8" cy="219.9" r="3.55"/>
<circle cx="459.4" cy="131.5" r="3.55"/>
<circle cx="460.0" cy="108.5" r="3.55"/>
<circle cx="460.6" cy="139.5" r="3.55"/>
<circle cx="461.2" cy="62.8" r="3.55"/>
<circle cx="461.8" cy="74.4" r="3.55"/>
<circle cx="462.4" cy="53.0" r="3.55"/>
<circle cx="463.0" cy="111.9" r="3.55"/>
<circle cx="463.6" cy="206.5" r="3.55"/>
<circle cx="464.8" cy="187.5" r="3.55"/>
<circle cx="465.4" cy="121.3" r="3.55"/>
<circle cx="466.0" cy="140.3" r="3.55"/>
<circle cx="466.6" cy="262.1" r="3.55"/>
<circle cx="467.2" cy="230.5" r="3.55"/>
<circle cx="467.8" cy="156.1" r="3.55"/>
<circle cx="468.4" cy="47.3" r="3.55"/>
<circle cx="469.0" cy="103.7" r="3.55"/>
<circle cx="469.6" cy="135.3" r="3.55"/>
<circle cx="470.2" cy="194.7" r="3.55"/>
<circle cx="470.8" cy="197.7" r="3.55"/>
<circle cx="471.4" cy="183.3" r="3.55"/>
<circle cx="471.9" cy="189.4" r="3.55"/>
<circle cx="472.6" cy="207.6" r="3.55"/>
<circle cx="473.1" cy="169.6" r="3.55"/>
<circle cx="473.8" cy="165.8" r="3.55"/>
<circle cx="474.4" cy="92.9" r="3.55"/>
<circle cx="474.9" cy="123.5" r="3.55"/>
<circle cx="475.5" cy="99.9" r="3.55"/>
<circle cx="476.1" cy="110.4" r="3.55"/>
<circle cx="477.3" cy="103.2" r="3.55"/>
<circle cx="477.9" cy="224.5" r="3.55"/>
<circle cx="479.1" cy="210.3" r="3.55"/>
<circle cx="479.7" cy="161.9" r="3.55"/>
<circle cx="480.3" cy="168.4" r="3.55"/>
<circle cx="480.9" cy="219.2" r="3.55"/>
<circle cx="481.5" cy="73.6" r="3.55"/>
<circle cx="482.1" cy="173.7" r="3.55"/>
<circle cx="482.7" cy="204.2" r="3.55"/>
<circle cx="483.3" cy="65.9" r="3.55"/>
<circle cx="483.9" cy="103.2" r="3.55"/>
<circle cx="484.5" cy="191.2" r="3.55"/>
<circle cx="485.1" cy="206.8" r="3.55"/>
<circle cx="485.7" cy="120.4" r="3.55"/>
<circle cx="486.3" cy="57.5" r="3.55"/>
<circle cx="486.9" cy="59.3" r="3.55"/>
<circle cx="487.5" cy="92.9" r="3.55"/>
<circle cx="488.1" cy="167.3" r="3.55"/>
<circle cx="488.7" cy="139.1" r="3.55"/>
<circle cx="489.3" cy="188.6" r="3.55"/>
<circle cx="489.9" cy="121.6" r="3.55"/>
<circle cx="490.5" cy="261.8" r="3.55"/>
<circle cx="491.1" cy="187.1" r="3.55"/>
<circle cx="492.3" cy="112.8" r="3.55"/>
<circle cx="492.9" cy="107.0" r="3.55"/>
<circle cx="493.5" cy="265.6" r="3.55"/>
<circle cx="494.1" cy="255.6" r="3.55"/>
<circle cx="494.7" cy="231.8" r="3.55"/>
<circle cx="495.3" cy="142.1" r="3.55"/>
<circle cx="495.9" cy="75.9" r="3.55"/>
<circle cx="496.5" cy="99.9" r="3.55"/>
<circle cx="497.1" cy="117.1" r="3.55"/>
<circle cx="497.7" cy="135.3" r="3.55"/>
<circle cx="498.3" cy="122.4" r="3.55"/>
<circle cx="498.9" cy="203.3" r="3.55"/>
<circle cx="499.5" cy="165.1" r="3.55"/>
<circle cx="500.1" cy="251.5" r="3.55"/>
<circle cx="500.7" cy="210.3" r="3.55"/>
<circle cx="501.3" cy="105.5" r="3.55"/>
<circle cx="501.9" cy="143.3" r="3.55"/>
<circle cx="502.4" cy="112.2" r="3.55"/>
<circle cx="503.1" cy="231.0" r="3.55"/>
<circle cx="503.6" cy="109.3" r="3.55"/>
<circle cx="504.2" cy="126.9" r="3.55"/>
<circle cx="504.8" cy="65.9" r="3.55"/>
<circle cx="505.4" cy="182.1" r="3.55"/>
<circle cx="506.0" cy="217.9" r="3.55"/>
<circle cx="506.6" cy="117.1" r="3.55"/>
<circle cx="507.2" cy="207.6" r="3.55"/>
<circle cx="507.8" cy="84.6" r="3.55"/>
<circle cx="508.4" cy="63.3" r="3.55"/>
<circle cx="509.0" cy="168.9" r="3.55"/>
<circle cx="509.6" cy="130.4" r="3.55"/>
<circle cx="510.2" cy="121.9" r="3.55"/>
<circle cx="510.8" cy="148.7" r="3.55"/>
<circle cx="511.4" cy="183.0" r="3.55"/>
<circle cx="512.0" cy="192.7" r="3.55"/>
<circle cx="512.6" cy="227.5" r="3.55"/>
<circle cx="513.2" cy="203.3" r="3.55"/>
<circle cx="513.8" cy="211.9" r="3.55"/>
<circle cx="514.4" cy="174.9" r="3.55"/>
<circle cx="515.0" cy="192.1" r="3.55"/>
<circle cx="515.6" cy="75.2" r="3.55"/>
<circle cx="516.2" cy="102.5" r="3.55"/>
<circle cx="516.8" cy="71.3" r="3.55"/>
<circle cx="517.4" cy="161.4" r="3.55"/>
<circle cx="518.0" cy="120.9" r="3.55"/>
<circle cx="518.6" cy="207.6" r="3.55"/>
<circle cx="519.2" cy="80.0" r="3.55"/>
<circle cx="519.8" cy="136.1" r="3.55"/>
<circle cx="520.4" cy="95.3" r="3.55"/>
<circle cx="521.0" cy="121.9" r="3.55"/>
<circle cx="521.6" cy="180.3" r="3.55"/>
<circle cx="522.2" cy="229.5" r="3.55"/>
<circle cx="522.8" cy="239.2" r="3.55"/>
<circle cx="523.4" cy="249.2" r="3.55"/>
<circle cx="524.0" cy="69.5" r="3.55"/>
<circle cx="524.6" cy="201.5" r="3.55"/>
<circle cx="525.2" cy="70.9" r="3.55"/>
<circle cx="525.8" cy="102.2" r="3.55"/>
<circle cx="526.4" cy="248.8" r="3.55"/>
<circle cx="527.0" cy="264.1" r="3.55"/>
<circle cx="527.6" cy="231.0" r="3.55"/>
<circle cx="528.2" cy="193.6" r="3.55"/>
<circle cx="528.8" cy="165.1" r="3.55"/>
<circle cx="529.4" cy="174.9" r="3.55"/>
<circle cx="530.0" cy="142.9" r="3.55"/>
<circle cx="530.6" cy="82.3" r="3.55"/>
<circle cx="531.2" cy="153.5" r="3.55"/>
<circle cx="531.8" cy="227.9" r="3.55"/>
<circle cx="532.4" cy="229.5" r="3.55"/>
<circle cx="533.0" cy="142.9" r="3.55"/>
<circle cx="533.5" cy="97.6" r="3.55"/>
<circle cx="534.1" cy="159.9" r="3.55"/>
<circle cx="534.7" cy="242.7" r="3.55"/>
<circle cx="535.3" cy="147.9" r="3.55"/>
<circle cx="535.9" cy="29.0" r="3.55"/>
<circle cx="536.5" cy="78.6" r="3.55"/>
<circle cx="537.1" cy="247.2" r="3.55"/>
<circle cx="537.7" cy="130.4" r="3.55"/>
<circle cx="538.3" cy="60.5" r="3.55"/>
<circle cx="538.9" cy="195.7" r="3.55"/>
<circle cx="539.5" cy="183.6" r="3.55"/>
<circle cx="540.1" cy="68.8" r="3.55"/>
<circle cx="540.7" cy="233.6" r="3.55"/>
<circle cx="541.3" cy="273.5" r="3.55"/>
<circle cx="541.9" cy="154.0" r="3.55"/>
<circle cx="542.5" cy="71.3" r="3.55"/>
<circle cx="543.1" cy="165.8" r="3.55"/>
<circle cx="543.7" cy="201.8" r="3.55"/>
<circle cx="544.3" cy="265.3" r="3.55"/>
<circle cx="544.9" cy="117.8" r="3.55"/>
<circle cx="545.5" cy="193.5" r="3.55"/>
<circle cx="546.1" cy="167.8" r="3.55"/>
<circle cx="546.7" cy="42.8" r="3.55"/>
<circle cx="547.3" cy="75.5" r="3.55"/>
<circle cx="547.9" cy="54.0" r="3.55"/>
<circle cx="548.5" cy="120.4" r="3.55"/>
<circle cx="549.1" cy="211.2" r="3.55"/>
<circle cx="549.7" cy="254.5" r="3.55"/>
<circle cx="550.3" cy="125.9" r="3.55"/>
<circle cx="550.9" cy="166.6" r="3.55"/>
<circle cx="551.5" cy="183.6" r="3.55"/>
<circle cx="552.1" cy="86.5" r="3.55"/>
<circle cx="552.7" cy="203.5" r="3.55"/>
<circle cx="553.3" cy="46.4" r="3.55"/>
<circle cx="553.9" cy="71.3" r="3.55"/>
<circle cx="554.5" cy="226.7" r="3.55"/>
<circle cx="555.1" cy="137.1" r="3.55"/>
<circle cx="555.7" cy="230.1" r="3.55"/>
<circle cx="556.3" cy="144.1" r="3.55"/>
<circle cx="556.9" cy="213.4" r="3.55"/>
<circle cx="557.5" cy="206.1" r="3.55"/>
<circle cx="558.1" cy="88.5" r="3.55"/>
<circle cx="558.7" cy="238.4" r="3.55"/>
<circle cx="559.3" cy="93.4" r="3.55"/>
<circle cx="559.9" cy="145.9" r="3.55"/>
<circle cx="560.5" cy="273.7" r="3.55"/>
<circle cx="561.1" cy="241.6" r="3.55"/>
<circle cx="561.6" cy="52.5" r="3.55"/>
<circle cx="562.2" cy="174.2" r="3.55"/>
<circle cx="562.9" cy="87.0" r="3.55"/>
<circle cx="563.5" cy="108.8" r="3.55"/>
<circle cx="564.0" cy="202.3" r="3.55"/>
<circle cx="564.6" cy="195.4" r="3.55"/>
<circle cx="565.2" cy="231.3" r="3.55"/>
<circle cx="565.8" cy="137.6" r="3.55"/>
<circle cx="566.4" cy="176.5" r="3.55"/>
<circle cx="567.0" cy="199.2" r="3.55"/>
<circle cx="567.6" cy="70.1" r="3.55"/>
<circle cx="568.2" cy="94.6" r="3.55"/>
<circle cx="568.8" cy="178.7" r="3.55"/>
<circle cx="569.4" cy="60.5" r="3.55"/>
<circle cx="570.0" cy="230.5" r="3.55"/>
<circle cx="570.6" cy="155.0" r="3.55"/>
<circle cx="571.2" cy="227.5" r="3.55"/>
<circle cx="571.8" cy="171.9" r="3.55"/>
<circle cx="572.4" cy="83.5" r="3.55"/>
<circle cx="573.0" cy="191.6" r="3.55"/>
<circle cx="573.6" cy="219.4" r="3.55"/>
<circle cx="574.2" cy="124.7" r="3.55"/>
<circle cx="574.8" cy="209.9" r="3.55"/>
<circle cx="576.0" cy="237.4" r="3.55"/>
<circle cx="576.6" cy="149.3" r="3.55"/>
<circle cx="577.2" cy="78.9" r="3.55"/>
<circle cx="577.8" cy="62.5" r="3.55"/>
<circle cx="579.0" cy="188.6" r="3.55"/>
<circle cx="579.6" cy="159.6" r="3.55"/>
<circle cx="580.2" cy="110.8" r="3.55"/>
<circle cx="580.8" cy="145.2" r="3.55"/>
<circle cx="581.4" cy="127.4" r="3.55"/>
<circle cx="582.0" cy="85.5" r="3.55"/>
<circle cx="582.6" cy="226.7" r="3.55"/>
<circle cx="583.2" cy="79.4" r="3.55"/>
<circle cx="583.8" cy="55.2" r="3.55"/>
<circle cx="584.4" cy="221.4" r="3.55"/>
<circle cx="585.0" cy="57.5" r="3.55"/>
<circle cx="585.6" cy="155.0" r="3.55"/>
<circle cx="586.2" cy="235.5" r="3.55"/>
<circle cx="586.8" cy="147.9" r="3.55"/>
<circle cx="587.4" cy="172.7" r="3.55"/>
<circle cx="588.0" cy="249.8" r="3.55"/>
<circle cx="588.6" cy="271.7" r="3.55"/>
<circle cx="589.8" cy="147.4" r="3.55"/>
<circle cx="590.4" cy="243.1" r="3.55"/>
<circle cx="591.0" cy="118.6" r="3.55"/>
<circle cx="591.5" cy="104.3" r="3.55"/>
<circle cx="592.1" cy="88.3" r="3.55"/>
<circle cx="592.8" cy="233.1" r="3.55"/>
<circle cx="593.4" cy="86.1" r="3.55"/>
<circle cx="594.0" cy="190.9" r="3.55"/>
<circle cx="594.5" cy="65.9" r="3.55"/>
<circle cx="595.1" cy="38.5" r="3.55"/>
<circle cx="595.7" cy="181.3" r="3.55"/>
<circle cx="596.3" cy="187.1" r="3.55"/>
<circle cx="596.9" cy="161.1" r="3.55"/>
<circle cx="597.5" cy="43.4" r="3.55"/>
<circle cx="598.1" cy="202.6" r="3.55"/>
<circle cx="598.7" cy="226.7" r="3.55"/>
<circle cx="599.3" cy="283.9" r="3.55"/>
<circle cx="599.9" cy="222.2" r="3.55"/>
<circle cx="600.5" cy="137.1" r="3.55"/>
<circle cx="601.1" cy="53.0" r="3.55"/>
<circle cx="601.7" cy="251.0" r="3.55"/>
<circle cx="602.3" cy="138.3" r="3.55"/>
<circle cx="602.9" cy="191.3" r="3.55"/>
<circle cx="603.5" cy="261.4" r="3.55"/>
<circle cx="604.1" cy="117.4" r="3.55"/>
<circle cx="604.7" cy="121.6" r="3.55"/>
<circle cx="605.3" cy="269.4" r="3.55"/>
<circle cx="605.9" cy="216.9" r="3.55"/>
<circle cx="606.5" cy="107.0" r="3.55"/>
<circle cx="607.1" cy="143.6" r="3.55"/>
<circle cx="607.7" cy="122.4" r="3.55"/>
<circle cx="608.3" cy="114.0" r="3.55"/>
<circle cx="608.9" cy="60.2" r="3.55"/>
<circle cx="609.5" cy="203.0" r="3.55"/>
<circle cx="610.1" cy="111.6" r="3.55"/>
<circle cx="610.7" cy="168.4" r="3.55"/>
<circle cx="611.3" cy="238.1" r="3.55"/>
<circle cx="611.9" cy="215.3" r="3.55"/>
<circle cx="612.5" cy="146.2" r="3.55"/>
<circle cx="613.1" cy="173.4" r="3.55"/>
<circle cx="613.7" cy="128.5" r="3.55"/>
<circle cx="614.3" cy="245.4" r="3.55"/>
<circle cx="614.9" cy="157.3" r="3.55"/>
<circle cx="615.5" cy="83.2" r="3.55"/>
<circle cx="616.1" cy="159.9" r="3.55"/>
<circle cx="616.7" cy="99.7" r="3.55"/>
<circle cx="617.3" cy="162.0" r="3.55"/>
<circle cx="617.9" cy="241.2" r="3.55"/>
<circle cx="618.5" cy="275.5" r="3.55"/>
<circle cx="619.1" cy="287.2" r="3.55"/>
<circle cx="619.7" cy="246.8" r="3.55"/>
<circle cx="620.3" cy="248.8" r="3.55"/>
<circle cx="620.9" cy="227.2" r="3.55"/>
<circle cx="621.5" cy="81.2" r="3.55"/>
<circle cx="622.0" cy="54.8" r="3.55"/>
<circle cx="622.6" cy="174.6" r="3.55"/>
<circle cx="623.2" cy="150.2" r="3.55"/>
<circle cx="623.9" cy="265.6" r="3.55"/>
<circle cx="624.4" cy="281.1" r="3.55"/>
<circle cx="625.0" cy="96.7" r="3.55"/>
<circle cx="625.6" cy="257.9" r="3.55"/>
<circle cx="626.2" cy="243.9" r="3.55"/>
<circle cx="626.8" cy="74.8" r="3.55"/>
<circle cx="627.4" cy="105.5" r="3.55"/>
<circle cx="628.0" cy="96.1" r="3.55"/>
<circle cx="628.6" cy="124.7" r="3.55"/>
<circle cx="629.2" cy="133.0" r="3.55"/>
<circle cx="629.8" cy="55.7" r="3.55"/>
<circle cx="630.4" cy="202.6" r="3.55"/>
<circle cx="631.0" cy="165.4" r="3.55"/>
<circle cx="631.6" cy="147.4" r="3.55"/>
<circle cx="632.2" cy="101.4" r="3.55"/>
<circle cx="632.8" cy="121.9" r="3.55"/>
<circle cx="633.4" cy="236.2" r="3.55"/>
<circle cx="634.0" cy="251.8" r="3.55"/>
<circle cx="634.6" cy="245.0" r="3.55"/>
<circle cx="635.2" cy="292.2" r="3.55"/>
<circle cx="635.8" cy="285.8" r="3.55"/>
<circle cx="636.4" cy="66.3" r="3.55"/>
<circle cx="637.0" cy="207.3" r="3.55"/>
<circle cx="637.6" cy="235.5" r="3.55"/>
<circle cx="638.2" cy="46.9" r="3.55"/>
<circle cx="638.8" cy="258.3" r="3.55"/>
<circle cx="639.4" cy="99.4" r="3.55"/>
<circle cx="640.0" cy="268.2" r="3.55"/>
<circle cx="640.6" cy="71.8" r="3.55"/>
<circle cx="641.2" cy="285.1" r="3.55"/>
<circle cx="641.8" cy="58.0" r="3.55"/>
<circle cx="642.4" cy="63.3" r="3.55"/>
<circle cx="643.0" cy="92.6" r="3.55"/>
<circle cx="643.6" cy="153.5" r="3.55"/>
<circle cx="644.2" cy="248.8" r="3.55"/>
<circle cx="644.8" cy="73.6" r="3.55"/>
<circle cx="645.4" cy="191.9" r="3.55"/>
<circle cx="646.0" cy="218.8" r="3.55"/>
<circle cx="646.6" cy="91.8" r="3.55"/>
<circle cx="647.2" cy="105.8" r="3.55"/>
<circle cx="647.8" cy="245.7" r="3.55"/>
<circle cx="648.4" cy="118.3" r="3.55"/>
<circle cx="649.0" cy="65.9" r="3.55"/>
<circle cx="649.6" cy="263.8" r="3.55"/>
<circle cx="650.2" cy="200.0" r="3.55"/>
<circle cx="650.8" cy="235.5" r="3.55"/>
<circle cx="651.4" cy="113.9" r="3.55"/>
<circle cx="652.0" cy="81.2" r="3.55"/>
<circle cx="652.5" cy="164.3" r="3.55"/>
<circle cx="653.1" cy="255.9" r="3.55"/>
<circle cx="653.8" cy="43.9" r="3.55"/>
<circle cx="654.3" cy="225.2" r="3.55"/>
<circle cx="654.9" cy="153.5" r="3.55"/>
<circle cx="655.5" cy="164.8" r="3.55"/>
<circle cx="656.1" cy="130.7" r="3.55"/>
<circle cx="656.7" cy="159.9" r="3.55"/>
<circle cx="657.3" cy="84.6" r="3.55"/>
<circle cx="657.9" cy="176.9" r="3.55"/>
<circle cx="658.5" cy="270.9" r="3.55"/>
<circle cx="659.1" cy="116.3" r="3.55"/>
<circle cx="659.7" cy="145.2" r="3.55"/>
<circle cx="660.3" cy="264.9" r="3.55"/>
<circle cx="660.9" cy="71.8" r="3.55"/>
<circle cx="661.5" cy="54.8" r="3.55"/>
<circle cx="662.1" cy="292.6" r="3.55"/>
<circle cx="662.7" cy="251.8" r="3.55"/>
<circle cx="663.3" cy="267.9" r="3.55"/>
<circle cx="663.9" cy="38.5" r="3.55"/>
<circle cx="664.5" cy="198.8" r="3.55"/>
<circle cx="665.1" cy="278.5" r="3.55"/>
<circle cx="665.7" cy="285.8" r="3.55"/>
<circle cx="666.3" cy="255.6" r="3.55"/>
<circle cx="666.9" cy="179.8" r="3.55"/>
<circle cx="667.5" cy="96.4" r="3.55"/>
</g>
<text transform="translate(68.70 319.0) scale(1 1.02)" font-size="15.5" text-anchor="middle">0</text>
<text transform="translate(128.50 319.0) scale(1 1.02)" font-size="15.5" text-anchor="middle">100</text>
<text transform="translate(188.30 319.0) scale(1 1.02)" font-size="15.5" text-anchor="middle">200</text>
<text transform="translate(248.10 319.0) scale(1 1.02)" font-size="15.5" text-anchor="middle">300</text>
<text transform="translate(307.90 319.0) scale(1 1.02)" font-size="15.5" text-anchor="middle">400</text>
<text transform="translate(367.70 319.0) scale(1 1.02)" font-size="15.5" text-anchor="middle">500</text>
<text transform="translate(427.50 319.0) scale(1 1.02)" font-size="15.5" text-anchor="middle">600</text>
<text transform="translate(487.30 319.0) scale(1 1.02)" font-size="15.5" text-anchor="middle">700</text>
<text transform="translate(547.10 319.0) scale(1 1.02)" font-size="15.5" text-anchor="middle">800</text>
<text transform="translate(606.90 319.0) scale(1 1.02)" font-size="15.5" text-anchor="middle">900</text>
<text transform="translate(666.70 319.0) scale(1 1.02)" font-size="15.5" text-anchor="middle">1000</text>
<text transform="translate(62.3 302.90) scale(1 1.02)" font-size="15.5" text-anchor="end">0</text>
<text transform="translate(62.3 247.58) scale(1 1.02)" font-size="15.5" text-anchor="end">200</text>
<text transform="translate(62.3 192.26) scale(1 1.02)" font-size="15.5" text-anchor="end">400</text>
<text transform="translate(62.3 136.94) scale(1 1.02)" font-size="15.5" text-anchor="end">600</text>
<text transform="translate(62.3 81.62) scale(1 1.02)" font-size="15.5" text-anchor="end">800</text>
<text transform="translate(62.3 26.30) scale(1 1.02)" font-size="15.5" text-anchor="end">1000</text>
<text transform="translate(371 340) scale(1 1.05)" font-size="17" text-anchor="middle">Samples</text>
<text transform="translate(19.3 159.3) rotate(-90) scale(1 0.98)" font-size="17.1" text-anchor="middle">Irradiance (W/m<tspan font-size="14" dy="-8.2">2</tspan><tspan dy="8.2">)</tspan></text>
<rect x="421.5" y="1.5" width="113" height="42.5" fill="#fff" stroke="#555" stroke-width="1"/>
<path d="M425.8 13.1H471.5" stroke="#0072BD" stroke-width="0.9" fill="none"/>
<circle cx="449.3" cy="32.4" r="4.6" fill="none" stroke="#D95319" stroke-width="1.5"/>
<text transform="translate(476 18.5) scale(1 1.05)" font-size="13.5">Actual-G</text>
<text transform="translate(476 38.3) scale(1 1.05)" font-size="13.5">Estimate</text>
</svg></body></html>
